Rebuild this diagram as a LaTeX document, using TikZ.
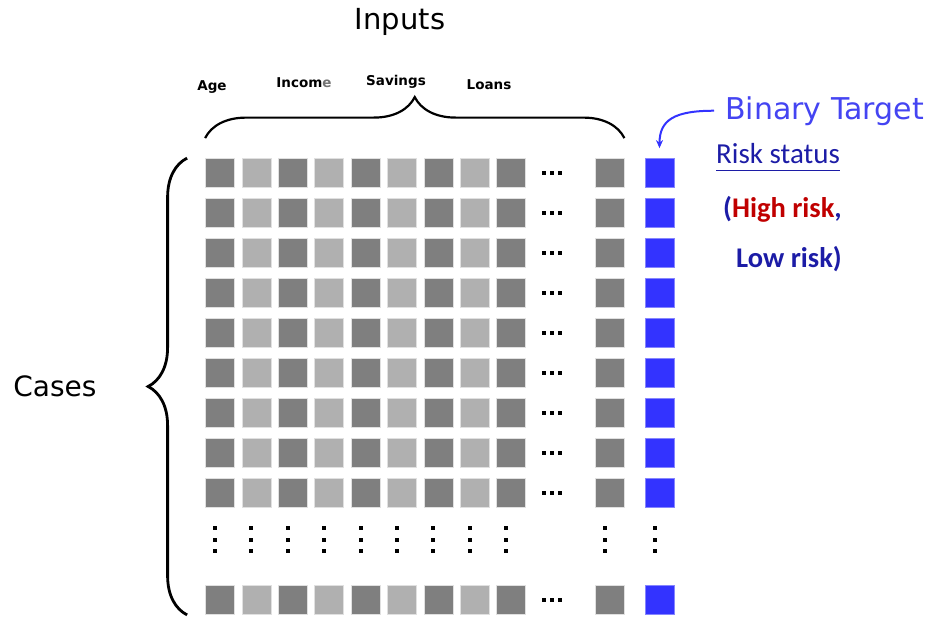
\documentclass[tikz,border=0pt]{standalone}
\usepackage{fontspec}
\setmainfont{DejaVu Sans}
\newfontfamily\calibri{Carlito}
\usetikzlibrary{arrows.meta,decorations.pathreplacing}

\definecolor{darkcell}{HTML}{7F7F7F}
\definecolor{lightcell}{HTML}{B0B0B0}
\definecolor{targetblue}{HTML}{3333FF}
\definecolor{labelblue}{HTML}{4444F2}
\definecolor{navy}{HTML}{1C1CA6}
\definecolor{riskred}{HTML}{C00000}

\tikzset{
  cell/.style={rectangle, draw=black!12, line width=0.8pt,
               minimum size=29pt, inner sep=0pt},
  darkcell/.style={cell, fill=darkcell},
  lightcell/.style={cell, fill=lightcell},
  targetcell/.style={cell, fill=targetblue, draw=targetblue!60},
  dotmark/.style={rectangle, fill=black, minimum size=4pt, inner sep=0pt},
  curly/.style={decorate, decoration={brace, amplitude=#1}},
  colname/.style={anchor=base, font=\bfseries\fontsize{13.5}{16}\selectfont},
}

\begin{document}
\begin{tikzpicture}[x=1pt, y=-1pt]

  \useasboundingbox (0,0) rectangle (927,619);

  % the nine full rows and the last one
  \foreach \r in {0,...,9} {
    \pgfmathsetmacro{\yy}{\r<9 ? 173+40*\r : 600}
    \foreach \c in {0,...,8} {
      \pgfmathsetmacro{\xx}{220+36.4*\c}
      \ifodd\c
        \node[lightcell] (c-\r-\c) at (\xx,\yy) {};
      \else
        \node[darkcell] (c-\r-\c) at (\xx,\yy) {};
      \fi
    }
    \node[dotmark] (h-\r-a) at (544,\yy) {};
    \node[dotmark] (h-\r-b) at (552,\yy) {};
    \node[dotmark] (h-\r-c) at (560,\yy) {};
    \node[darkcell] (c-\r-10) at (609.5,\yy) {};
    \node[targetcell] (t-\r) at (659.5,\yy) {};
  }

  % vertical dots between row 9 and the last row
  \foreach \xx/\n in {215/0,251.4/1,287.8/2,324.2/3,360.6/4,397/5,433.4/6,
                      469.8/7,506.2/8,604.5/10,654.5/t} {
    \node[dotmark] (v-\n-a) at (\xx,528) {};
    \node[dotmark] (v-\n-b) at (\xx,539.5) {};
    \node[dotmark] (v-\n-c) at (\xx,551) {};
  }

  % column names
  \node[colname] (age) at (212,90) {Age};
  \node[colname] (income) at (304,87) {Incom{\color{black!55}e}};
  \node[colname] (savings) at (396,85) {Savings};
  \node[colname] (loans) at (489,89) {Loans};

  \node[anchor=base, font=\fontsize{29}{33}\selectfont] (inputs) at (400,29) {Inputs};
  \node[anchor=base, font=\fontsize{28}{33}\selectfont] (cases) at (55,396) {Cases};

  % braces
  \draw[curly=41pt, line width=2.2pt]
    ([yshift=20pt]c-0-0.north west) -- ([yshift=20pt]c-0-10.north east);
  \draw[curly=39pt, line width=2.8pt]
    ([xshift=-18pt]c-9-0.south west) -- ([xshift=-18pt]c-0-0.north west);

  % target column labels
  \node[anchor=base west, inner sep=0pt, text=labelblue,
        font=\fontsize{30}{34}\selectfont]
    (bt) at (725,119) {Binary Target};
  \node[anchor=base west, inner sep=0pt, text=navy,
        font=\calibri\fontsize{29}{33}\selectfont]
    (risk) at (716,163) {Risk status};
  \draw[navy, line width=1.6pt]
    ([yshift=-7.5pt]risk.base west) -- ([yshift=-7.5pt]risk.base east);
  \node[anchor=base west, inner sep=0pt, text=navy,
        font=\calibri\bfseries\fontsize{28.5}{33}\selectfont]
    (high) at (723,217) {(\textcolor{riskred}{High risk},};
  \node[anchor=base west, inner sep=0pt, text=navy,
        font=\calibri\bfseries\fontsize{28.5}{33}\selectfont]
    (low) at (736,267) {Low risk)};

  \draw[targetblue, line width=2pt, -{Stealth[length=8pt,width=7pt]}]
    ([xshift=-11pt]bt.west) .. controls +(-40pt,0pt) and +(0pt,28pt)
    .. ([yshift=10pt]t-0.north);

\end{tikzpicture}
\end{document}
